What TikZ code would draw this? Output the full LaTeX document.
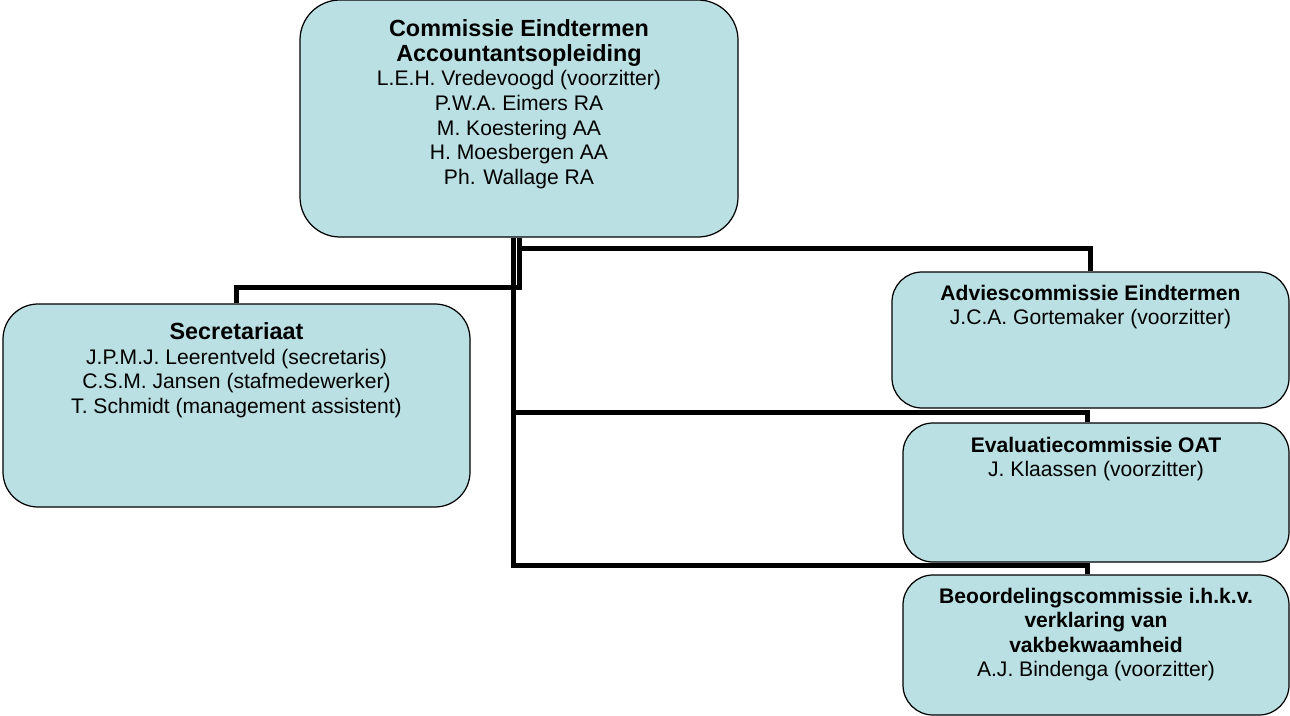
\documentclass[tikz,border=0pt]{standalone}
\usepackage{fontspec}
\setmainfont{Liberation Sans}
\usetikzlibrary{positioning}
\definecolor{boxfill}{RGB}{186,224,227}
\tikzset{
  orgbox/.style={draw=black,line width=0.7pt,fill=boxfill,rounded corners=#1,inner sep=0pt},
  orgbox/.default=0.6cm,
  orgtext/.style={align=center,inner sep=0pt,font=\fontsize{12}{14}\selectfont},
  link/.style={line width=0.1cm}
}
\newcommand{\bighead}[1]{{\fontsize{13.3}{15.3}\selectfont\bfseries #1}}

\begin{document}
\begin{tikzpicture}
\useasboundingbox (0,0) rectangle (25.8,-14.32);
\node[orgbox=0.8cm,minimum width=8.76cm,minimum height=4.74cm] (top) at (10.38,-2.37) {};
\node[orgbox=0.7cm,minimum width=9.34cm,minimum height=4.06cm] (sec) at (4.73,-8.11) {};
\node[orgbox,minimum width=7.94cm,minimum height=2.72cm] (adv) at (21.81,-6.80) {};
\node[orgbox,minimum width=7.72cm,minimum height=2.78cm] (eval) at (21.92,-9.85) {};
\node[orgbox,minimum width=7.72cm,minimum height=2.80cm] (beo) at (21.92,-12.90) {};
\node[orgtext,below=0.40cm of top.north] (toptext) {\bighead{Commissie Eindtermen}\\\bighead{Accountantsopleiding}\\
  L.E.H. Vredevoogd (voorzitter)\\P.W.A. Eimers RA\\M. Koestering AA\\H. Moesbergen AA\\Ph. Wallage RA};
\node[orgtext,below=0.38cm of sec.north] (sectext) {\bighead{Secretariaat}\\J.P.M.J. Leerentveld (secretaris)\\
  C.S.M. Jansen (stafmedewerker)\\T. Schmidt (management assistent)};
\node[orgtext,below=0.26cm of adv.north] (advtext) {\textbf{Adviescommissie Eindtermen}\\J.C.A. Gortemaker (voorzitter)};
\node[orgtext,below=0.28cm of eval.north] (evaltext) {\textbf{Evaluatiecommissie OAT}\\J. Klaassen (voorzitter)};
\node[orgtext,below=0.26cm of beo.north] (beotext) {\textbf{Beoordelingscommissie i.h.k.v.}\\\textbf{verklaring van}\\
  \textbf{vakbekwaamheid}\\A.J. Bindenga (voorzitter)};
\draw[link] (top.south) -- ++(0,-1.0) -| (sec.north);
\draw[link] (top.south) -- ++(0,-0.22) -| (adv.north);
\draw[link] ([xshift=-0.12cm]top.south) ++(0,-3.5) -| ([xshift=-0.18cm]eval.north);
\draw[link] ([xshift=-0.12cm]top.south) -- ++(0,-6.56) -| ([xshift=-0.18cm]beo.north);
\end{tikzpicture}
\end{document}
